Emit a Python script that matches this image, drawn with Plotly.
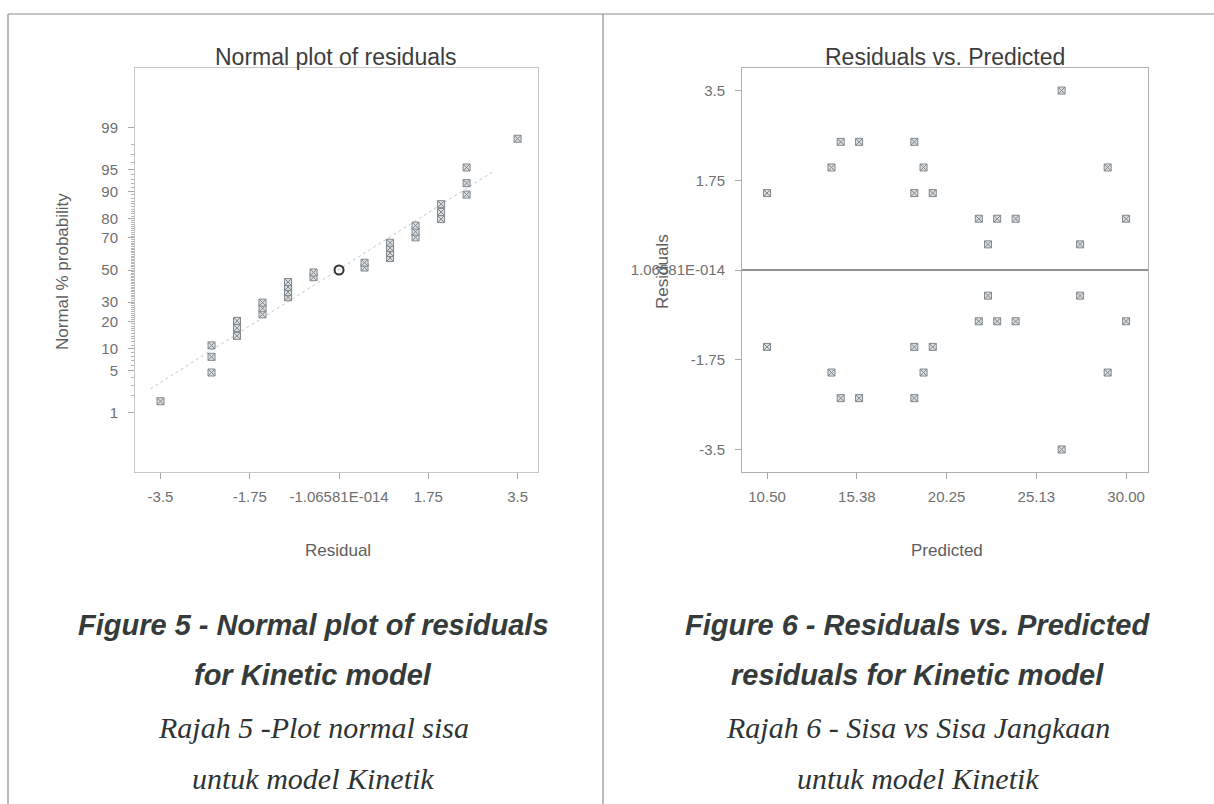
import plotly.graph_objects as go
from statistics import NormalDist

W, H = 1214, 804

# ---- Normal probability plot of residuals (sorted residuals and their plotting %) ----
resid_sorted = [-3.5, -2.5, -2.5, -2.5, -2.0, -2.0, -2.0, -1.5, -1.5, -1.5,
                -1.0, -1.0, -1.0, -1.0, -0.5, -0.5, 0.5, 0.5, 1.0, 1.0,
                1.0, 1.0, 1.5, 1.5, 1.5, 2.0, 2.0, 2.0, 2.5, 2.5, 2.5, 3.5]
normal_pct = [1.6, 4.7, 7.8, 10.9, 14.1, 17.2, 20.3, 23.4, 26.6, 29.7,
              32.8, 35.9, 39.1, 42.2, 45.3, 48.4, 51.6, 54.7, 57.8, 60.9,
              64.1, 67.2, 70.3, 73.4, 76.6, 79.7, 82.8, 85.9, 89.1, 92.2,
              95.3, 98.4]
center_resid = [0.0]
center_pct = [50.0]
fit_resid = [-3.7, 3.0]
fit_pct = [2.6, 94.5]
prob_ticks = [1, 5, 10, 20, 30, 50, 70, 80, 90, 95, 99]
resid_ticks = [-3.5, -1.75, 0.0, 1.75, 3.5]
resid_ticktext = ["-3.5", "-1.75", "-1.06581E-014", "1.75", "3.5"]

# ---- Residuals vs predicted ----
predicted = [10.5, 10.5, 14.0, 14.0, 14.5, 14.5, 15.5, 15.5,
             18.5, 18.5, 18.5, 18.5, 19.0, 19.0, 19.5, 19.5,
             22.0, 22.0, 22.5, 22.5, 23.0, 23.0, 24.0, 24.0,
             26.5, 26.5, 27.5, 27.5, 29.0, 29.0, 30.0, 30.0]
residuals = [1.5, -1.5, 2.0, -2.0, 2.5, -2.5, 2.5, -2.5,
             2.5, -2.5, 1.5, -1.5, 2.0, -2.0, 1.5, -1.5,
             1.0, -1.0, 0.5, -0.5, 1.0, -1.0, 1.0, -1.0,
             3.5, -3.5, 0.5, -0.5, 2.0, -2.0, 1.0, -1.0]
pred_ticks = [10.5, 15.375, 20.25, 25.125, 30.0]
pred_ticktext = ["10.50", "15.38", "20.25", "25.13", "30.00"]
res_ticks = [-3.5, -1.75, 0.0, 1.75, 3.5]
res_ticktext = ["-3.5", "-1.75", "1.06581E-014", "1.75", "3.5"]

nd = NormalDist()


def zscore(p):
    return nd.inv_cdf(p / 100.0)


def px(x):
    return x / W


def py(y):
    return 1 - y / H


SANS = "Liberation Sans, Arial, sans-serif"
TICK_FONT = dict(family=SANS, size=15, color="#707070")
MARK_FILL = "#dcdfe1"
MARK_LINE = "#80878c"

fig = go.Figure()

# probability plot
fig.add_trace(go.Scatter(
    x=fit_resid, y=[zscore(p) for p in fit_pct], mode="lines",
    line=dict(color="#c4c8cb", width=1, dash="dot"),
    xaxis="x", yaxis="y", hoverinfo="skip", showlegend=False))
fig.add_trace(go.Scatter(
    x=resid_sorted, y=[zscore(p) for p in normal_pct], mode="markers",
    marker=dict(symbol="square-x", size=7, color=MARK_FILL,
                line=dict(color=MARK_LINE, width=1)),
    xaxis="x", yaxis="y", showlegend=False))
fig.add_trace(go.Scatter(
    x=center_resid, y=[zscore(p) for p in center_pct], mode="markers",
    marker=dict(symbol="circle-open", size=9, color="#333",
                line=dict(color="#333", width=2)),
    xaxis="x", yaxis="y", showlegend=False))

# residuals vs predicted
fig.add_trace(go.Scatter(
    x=predicted, y=residuals, mode="markers",
    marker=dict(symbol="square-x", size=7, color=MARK_FILL,
                line=dict(color=MARK_LINE, width=1)),
    xaxis="x2", yaxis="y2", showlegend=False))

minor_pct = [p for p in range(1, 100)]

y_dom = [py(472), py(68)]

fig.update_layout(
    width=W, height=H,
    margin=dict(l=0, r=0, t=0, b=0),
    paper_bgcolor="white", plot_bgcolor="white",
    font=dict(family=SANS, color="#555"),
    xaxis=dict(domain=[px(135), px(538)], range=[-4.0, 3.9],
               tickmode="array", tickvals=resid_ticks, ticktext=resid_ticktext,
               ticks="outside", ticklen=6, tickcolor="#aaa", ticklabelstandoff=5,
               showline=True, linecolor="#c8c8c8", mirror=True,
               showgrid=False, zeroline=False, tickfont=TICK_FONT, anchor="y"),
    yaxis=dict(domain=y_dom, range=[-3.3, 3.3],
               tickmode="array", tickvals=[zscore(p) for p in prob_ticks],
               ticktext=[str(p) for p in prob_ticks],
               ticks="outside", ticklen=6, tickcolor="#aaa", ticklabelstandoff=7,
               minor=dict(tickmode="array", tickvals=[zscore(p) for p in minor_pct],
                          ticks="outside", ticklen=3, tickcolor="#b5b5b5"),
               showline=True, linecolor="#c8c8c8", mirror=True,
               showgrid=False, zeroline=False, tickfont=TICK_FONT, anchor="x"),
    xaxis2=dict(domain=[px(742), px(1148)], range=[9.14, 31.19],
                tickmode="array", tickvals=pred_ticks, ticktext=pred_ticktext,
                ticks="outside", ticklen=6, tickcolor="#aaa", ticklabelstandoff=5,
                showline=True, linecolor="#b0b0b0", mirror=True,
                showgrid=False, zeroline=False, tickfont=TICK_FONT, anchor="y2"),
    yaxis2=dict(domain=y_dom, range=[-3.94, 3.94],
                tickmode="array", tickvals=res_ticks, ticktext=res_ticktext,
                ticks="outside", ticklen=6, tickcolor="#aaa", ticklabelstandoff=7,
                showline=True, linecolor="#b0b0b0", mirror=True,
                showgrid=False, zeroline=False, tickfont=TICK_FONT, anchor="x2"),
)

# zero reference line across the residual plot
fig.add_shape(type="line", xref="x2 domain", yref="y2", x0=0, x1=1, y0=0, y1=0,
              line=dict(color="#6e6e6e", width=1.6))

# page rules: top edge, left edge and column divider
for shp in [dict(x0=px(8), x1=1, y0=py(14), y1=py(14)),
            dict(x0=px(8), x1=px(8), y0=py(14), y1=0),
            dict(x0=px(603), x1=px(603), y0=py(14), y1=0)]:
    fig.add_shape(type="line", xref="paper", yref="paper",
                  line=dict(color="#8c8c8c", width=1.2), **shp)

ann = []
TITLE_FONT = dict(family=SANS, size=23, color="#3d3d3d")
ann.append(dict(text="Normal plot of residuals", x=px(336), y=py(57), font=TITLE_FONT))
ann.append(dict(text="Residuals vs. Predicted", x=px(945), y=py(57), font=TITLE_FONT))

AX_FONT = dict(family=SANS, size=17, color="#5e5e5e")
ann.append(dict(text="Residual", x=px(338), y=py(550), font=AX_FONT))
ann.append(dict(text="Predicted", x=px(947), y=py(550), font=AX_FONT))
ann.append(dict(text="Normal % probability", x=px(62), y=py(272), textangle=-90, font=AX_FONT))
ann.append(dict(text="Residuals", x=px(662), y=py(272), textangle=-90, font=AX_FONT))

CAP_EN = dict(family=SANS, size=29, color="#353b3b")
CAP_MS = dict(family="Liberation Serif, Times New Roman, serif", size=30, color="#2e3434")
left_caps = [("<b><i>Figure 5 - Normal plot of residuals</i></b>", 625, CAP_EN),
             ("<b><i>for Kinetic model</i></b>", 675, CAP_EN),
             ("<i>Rajah 5 -Plot normal sisa</i>", 727, CAP_MS),
             ("<i>untuk model Kinetik</i>", 778, CAP_MS)]
right_caps = [("<b><i>Figure 6 - Residuals vs. Predicted</i></b>", 625, CAP_EN),
              ("<b><i>residuals for Kinetic model</i></b>", 675, CAP_EN),
              ("<i>Rajah 6 - Sisa vs Sisa Jangkaan</i>", 727, CAP_MS),
              ("<i>untuk model Kinetik</i>", 778, CAP_MS)]
for text, yy, f in left_caps:
    ann.append(dict(text=text, x=px(313), y=py(yy), font=f))
for text, yy, f in right_caps:
    ann.append(dict(text=text, x=px(918), y=py(yy), font=f))

for a in ann:
    a.update(xref="paper", yref="paper", showarrow=False, xanchor="center", yanchor="middle")
fig.update_layout(annotations=ann)

fig.write_html("out.html")
